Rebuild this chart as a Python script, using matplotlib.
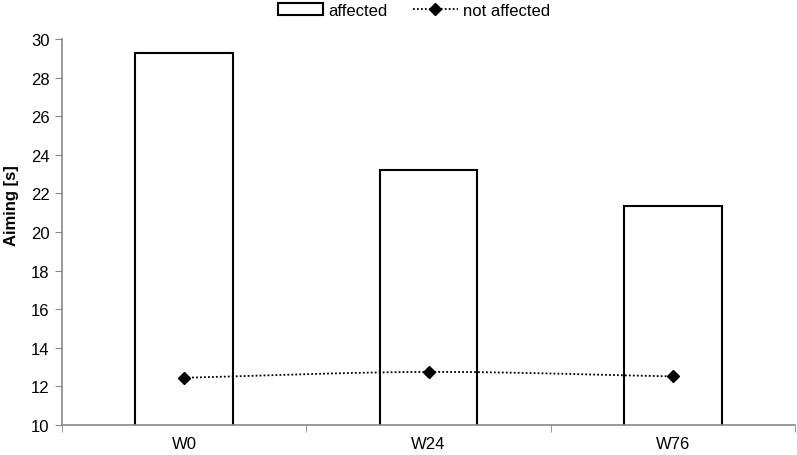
import numpy as np
import matplotlib
matplotlib.use("Agg")
import matplotlib.pyplot as plt
from matplotlib.patches import Patch
from matplotlib.lines import Line2D

plt.rcParams['font.family'] = ['Liberation Sans', 'DejaVu Sans']

categories = ["W0", "W24", "W76"]
affected = [29.25, 23.2, 21.35]
not_affected = [12.45, 12.75, 12.52]
yticks = [10, 12, 14, 16, 18, 20, 22, 24, 26, 28, 30]

fig = plt.figure(figsize=(7.97, 4.56), dpi=100)
ax = fig.add_axes([62/797, 1 - 426/456, (795 - 62)/797, (426 - 40)/456])

x = np.arange(len(categories))
ax.bar(x, affected, width=0.4, bottom=0, color='white', edgecolor='black', linewidth=1.5, zorder=2)

# smooth curve (Catmull-Rom through the points, like Excel smoothed line)
def catmull(xs, ys, n=40):
    px = np.concatenate([[2*xs[0]-xs[1]], xs, [2*xs[-1]-xs[-2]]])
    py = np.concatenate([[2*ys[0]-ys[1]], ys, [2*ys[-1]-ys[-2]]])
    ox, oy = [], []
    for i in range(1, len(px) - 2):
        t = np.linspace(0, 1, n)
        for p, o in ((px, ox), (py, oy)):
            p0, p1, p2, p3 = p[i-1], p[i], p[i+1], p[i+2]
            o.extend(0.5*((2*p1) + (-p0+p2)*t + (2*p0-5*p1+4*p2-p3)*t**2 + (-p0+3*p1-3*p2+p3)*t**3))
    return np.array(ox), np.array(oy)

sx, sy = catmull(x.astype(float), np.array(not_affected, dtype=float))
ax.plot(sx, sy, color='black', linestyle=(0, (1, 1.2)), linewidth=1.3, zorder=3)
ax.plot(x, not_affected, linestyle='none', marker='D', markersize=6, color='black', zorder=4)

ax.set_xlim(-0.5, 2.5)
ax.set_ylim(10, 30)
ax.set_yticks(yticks)
ax.tick_params(axis='y', labelsize=12, length=5, color='#888888', direction='out', pad=4)
ax.set_xticks(x)
ax.set_xticklabels(categories)
ax.tick_params(axis='x', which='major', length=0, labelsize=12, pad=8)
ax.set_xticks([-0.5, 0.5, 1.5, 2.5], minor=True)
ax.tick_params(axis='x', which='minor', length=5, color='#888888', direction='out')

for s in ['top', 'right']:
    ax.spines[s].set_visible(False)
for s in ['left', 'bottom']:
    ax.spines[s].set_color('#888888')
    ax.spines[s].set_linewidth(1.2)

ax.set_ylabel("Aiming [s]", fontsize=12, fontweight='bold')
ax.yaxis.set_label_coords(-0.058, 0.57)

handles = [Patch(facecolor='white', edgecolor='black', linewidth=1.5, label='affected'),
           Line2D([0], [0], color='black', linestyle=(0, (1, 1.2)), linewidth=1.3, marker='D',
                  markersize=6, label='not affected')]
fig.legend(handles=handles, loc='center', bbox_to_anchor=(414/797, 1 - 11/456), ncol=2,
           frameon=False, fontsize=12, handlelength=2.7, columnspacing=1.5, handletextpad=0.3,
           borderaxespad=0)

fig.savefig("out.png", dpi=100)
